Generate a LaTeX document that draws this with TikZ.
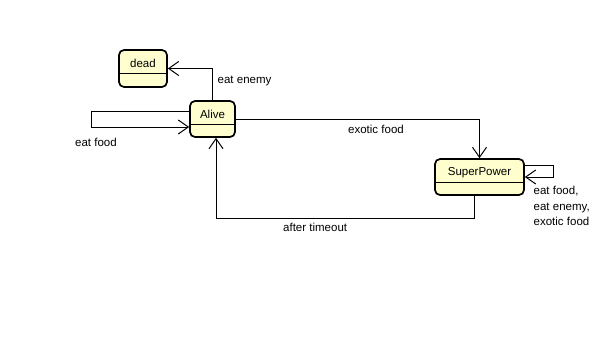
\documentclass[tikz,border=0pt]{standalone}
\usepackage{fontspec}
\setmainfont{Liberation Sans}
\usetikzlibrary{arrows.meta}
\definecolor{statefill}{HTML}{FEFECE}
\begin{document}
\begin{tikzpicture}[x=1pt,y=-1pt,
  statebox/.style={draw=black, line width=1.7pt, fill=statefill, rounded corners=5pt, inner sep=0pt},
  statename/.style={font=\fontsize{11.5}{13}\selectfont, inner sep=0pt},
  divider/.style={line width=1pt},
  trans/.style={line width=1pt, -{Straight Barb[length=10pt,width=14pt,line width=1pt]}},
  lbl/.style={font=\fontsize{11.5}{15.5}\selectfont, inner sep=0pt, anchor=west}]
  \useasboundingbox (0,0) rectangle (615,359);

  % states
  \node[statebox, minimum width=48pt, minimum height=37pt] (dead) at (143,68.5) {};
  \node[statename] (deadname) at (143,63) {dead};
  \draw[divider] (dead.west |- 0,73) -- (dead.east |- 0,73);

  \node[statebox, minimum width=45pt, minimum height=36pt] (alive) at (212.5,119) {};
  \node[statename] (alivename) at (212.5,114.5) {Alive};
  \draw[divider] (alive.west |- 0,124) -- (alive.east |- 0,124);

  \node[statebox, minimum width=89pt, minimum height=36pt] (sp) at (479.5,177) {};
  \node[statename] (spname) at (479.5,172.5) {SuperPower};
  \draw[divider] (sp.west |- 0,182) -- (sp.east |- 0,182);

  % bend points
  \coordinate (a1) at (91,111);
  \coordinate (a2) at (91,127);
  \coordinate (b1) at (474,218);
  \coordinate (b2) at (216,218);
  \coordinate (s1) at (553,165);
  \coordinate (s2) at (553,177);

  % transitions
  \draw[trans] (alive.north) |- (dead.east);
  \draw[trans] (alive.west |- a1) -- (a1) -- (a2) -- (alive.west |- a2);
  \draw[trans] (alive.east) -| (sp.north);
  \draw[trans] (sp.south -| b1) -- (b1) -- (b2) -- (alive.south -| b2);
  \draw[trans] (sp.east |- s1) -- (s1) -- (s2) -- (sp.east |- s2);

  % transition labels
  \node[lbl] (leatenemy) at (217.5,80.5) {eat enemy};
  \node[lbl] (leatfood) at (75,142) {eat food};
  \node[lbl] (lexotic) at (348,129.5) {exotic food};
  \node[lbl] (ltimeout) at (283,227.5) {after timeout};
  \node[lbl, align=left, anchor=north west] (lsp) at (533.5,186) {eat food,\\eat enemy,\\exotic food};
\end{tikzpicture}
\end{document}
